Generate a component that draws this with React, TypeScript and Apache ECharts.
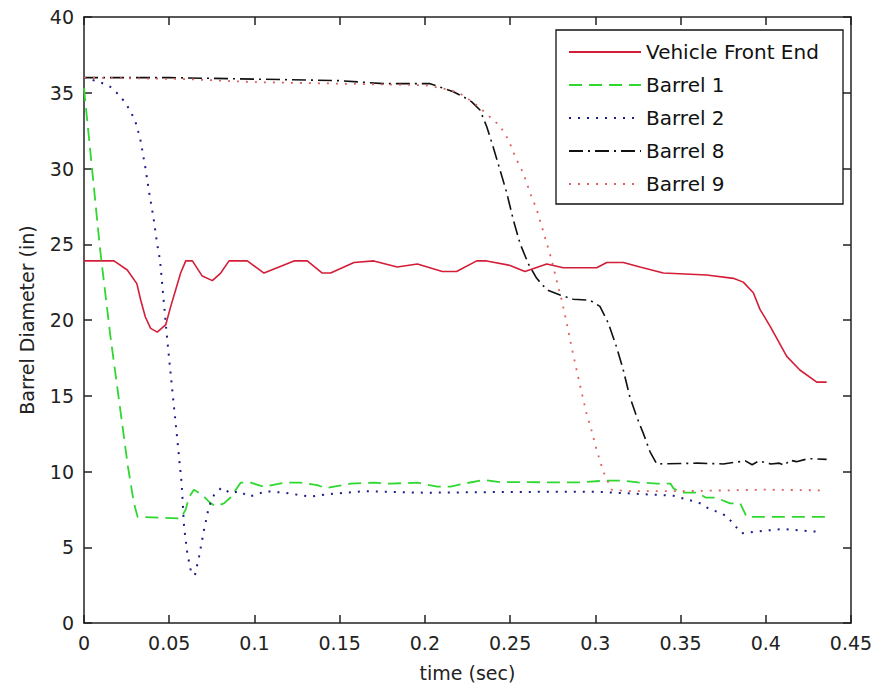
import React, { useEffect, useRef } from "react";
import * as echarts from "echarts";

const xTickLabels = ["0", "0.05", "0.1", "0.15", "0.2", "0.25", "0.3", "0.35", "0.4", "0.45"];
const seriesNames = ["Vehicle Front End", "Barrel 1", "Barrel 2", "Barrel 8", "Barrel 9"];

const frontEndT = [0, 0.0176, 0.0254, 0.031, 0.0333, 0.036, 0.0391, 0.043, 0.048, 0.0509, 0.0538, 0.0567, 0.0597, 0.0636, 0.0694, 0.0753, 0.0802, 0.0851, 0.0958, 0.1056, 0.1232, 0.131, 0.1398, 0.1447, 0.1584, 0.17, 0.1838, 0.1956, 0.2102, 0.2186, 0.2304, 0.2363, 0.25, 0.2587, 0.2715, 0.2812, 0.3008, 0.3067, 0.3164, 0.3262, 0.3399, 0.3653, 0.381, 0.3868, 0.3927, 0.3966, 0.4025, 0.4123, 0.42, 0.4299, 0.4357];
const frontEndV = [23.9, 23.9, 23.3, 22.4, 21.3, 20.2, 19.45, 19.2, 19.7, 20.9, 22.0, 23.1, 23.9, 23.9, 22.9, 22.6, 23.1, 23.9, 23.9, 23.1, 23.9, 23.9, 23.1, 23.1, 23.8, 23.9, 23.5, 23.7, 23.2, 23.2, 23.9, 23.9, 23.6, 23.2, 23.7, 23.45, 23.45, 23.8, 23.8, 23.5, 23.1, 22.97, 22.75, 22.5, 21.8, 20.7, 19.6, 17.6, 16.7, 15.9, 15.9];

const barrel1T = [0, 0.0094, 0.0153, 0.0258, 0.0293, 0.0315, 0.0567, 0.0597, 0.0616, 0.0645, 0.0694, 0.0743, 0.0773, 0.0821, 0.0861, 0.0919, 0.0978, 0.1056, 0.1173, 0.127, 0.1369, 0.1418, 0.1467, 0.1565, 0.1701, 0.18, 0.1956, 0.2073, 0.2151, 0.223, 0.2343, 0.244, 0.291, 0.306, 0.316, 0.325, 0.336, 0.344, 0.3458, 0.35, 0.36, 0.365, 0.371, 0.379, 0.385, 0.3888, 0.4365];
const barrel1V = [35.3, 24.7, 19.1, 10.3, 7.9, 7.0, 6.9, 7.5, 8.3, 8.8, 8.45, 7.9, 7.7, 7.9, 8.3, 9.26, 9.26, 9.0, 9.26, 9.26, 9.1, 8.9, 9.0, 9.2, 9.26, 9.2, 9.26, 9.0, 9.0, 9.2, 9.44, 9.3, 9.28, 9.4, 9.4, 9.28, 9.2, 9.2, 8.9, 8.6, 8.6, 8.27, 8.27, 7.9, 7.9, 7.0, 7.0];

const barrel2T = [0, 0.0094, 0.0153, 0.0201, 0.0246, 0.0299, 0.0329, 0.0358, 0.0381, 0.0407, 0.043, 0.0446, 0.0485, 0.0514, 0.0544, 0.0573, 0.0587, 0.0606, 0.063, 0.0651, 0.0675, 0.0704, 0.0733, 0.0763, 0.0806, 0.0861, 0.091, 0.0968, 0.1017, 0.1066, 0.1173, 0.133, 0.1427, 0.164, 0.2, 0.25, 0.3, 0.3458, 0.3556, 0.3614, 0.3663, 0.3712, 0.377, 0.3815, 0.3859, 0.4, 0.41, 0.4328];
const barrel2V = [36.0, 35.7, 35.4, 34.9, 34.3, 33.2, 32.0, 30.2, 28.5, 26.8, 24.95, 23.96, 19.1, 15.8, 12.5, 9.2, 6.36, 4.6, 3.28, 3.17, 4.38, 6.14, 7.68, 8.45, 8.93, 8.56, 8.7, 8.34, 8.5, 8.7, 8.6, 8.34, 8.5, 8.7, 8.6, 8.65, 8.67, 8.4, 8.1, 7.9, 7.57, 7.35, 7.06, 6.47, 5.92, 6.1, 6.2, 6.0];

const barrel8T = [0, 0.05, 0.1, 0.15, 0.1756, 0.203, 0.2108, 0.2167, 0.2225, 0.2275, 0.2323, 0.2363, 0.2401, 0.2441, 0.248, 0.2519, 0.2558, 0.2607, 0.2656, 0.2715, 0.2793, 0.2871, 0.2969, 0.3027, 0.3076, 0.3125, 0.3164, 0.3203, 0.3243, 0.3282, 0.3321, 0.336, 0.36, 0.375, 0.388, 0.392, 0.396, 0.403, 0.408, 0.411, 0.414, 0.418, 0.425, 0.4357];
const barrel8V = [36.0, 36.0, 35.9, 35.8, 35.6, 35.6, 35.3, 35.07, 34.74, 34.4, 33.86, 32.76, 31.4, 29.9, 28.4, 26.6, 25.06, 23.7, 22.75, 22.0, 21.65, 21.37, 21.3, 20.9, 19.8, 18.2, 16.7, 14.9, 13.6, 12.5, 11.3, 10.5, 10.55, 10.5, 10.7, 10.45, 10.7, 10.5, 10.55, 10.4, 10.75, 10.65, 10.85, 10.8];

const barrel9T = [0, 0.06, 0.1, 0.15, 0.2, 0.21, 0.22, 0.228, 0.2323, 0.2382, 0.2441, 0.249, 0.2529, 0.2577, 0.2617, 0.2656, 0.2685, 0.2715, 0.2744, 0.2773, 0.2803, 0.2832, 0.2861, 0.289, 0.292, 0.2949, 0.2978, 0.3008, 0.3047, 0.3096, 0.32, 0.35, 0.4, 0.4357];
const barrel9V = [36.0, 35.9, 35.7, 35.6, 35.5, 35.3, 35.0, 34.4, 34.0, 33.4, 32.8, 31.9, 30.8, 29.7, 28.4, 27.3, 26.2, 25.06, 23.96, 22.6, 21.3, 19.8, 18.2, 16.7, 15.2, 13.8, 12.7, 11.4, 9.99, 8.8, 8.7, 8.7, 8.8, 8.75];

const FONT = "DejaVu Sans";
const AXIS_COLOR = "#222";

function pairs(t: number[], v: number[]) {
  return t.map((x, i) => [x, v[i]]);
}

export default function App() {
  const ref = useRef<HTMLDivElement>(null);
  useEffect(() => {
    const chart = echarts.init(ref.current!, null, { renderer: "svg" });
    const axisCommon = {
      type: "value" as const,
      axisLine: { show: true, onZero: false, lineStyle: { color: AXIS_COLOR, width: 1.5 } },
      axisTick: { show: true, inside: true, length: 8, lineStyle: { color: AXIS_COLOR, width: 1.5 } },
      splitLine: { show: false },
    };
    const styles = [
      { color: "#d41e38", type: "solid", width: 1.6 },
      { color: "#2fd82f", type: [13, 7], width: 1.8 },
      { color: "#1c1c8a", type: [2, 7], width: 2 },
      { color: "#111111", type: [14, 5, 2, 5], width: 1.6 },
      { color: "#e06060", type: [2, 7], width: 1.8 },
    ];
    const datasets = [
      pairs(frontEndT, frontEndV),
      pairs(barrel1T, barrel1V),
      pairs(barrel2T, barrel2V),
      pairs(barrel8T, barrel8V),
      pairs(barrel9T, barrel9V),
    ];
    chart.setOption({
      animation: false,
      backgroundColor: "#ffffff",
      textStyle: { fontFamily: FONT },
      grid: { left: 84, right: 25, top: 17, bottom: 66 },
      xAxis: [
        {
          ...axisCommon,
          position: "bottom",
          min: 0,
          max: 0.45,
          interval: 0.05,
          name: "time (sec)",
          nameLocation: "middle",
          nameGap: 40,
          nameTextStyle: { color: AXIS_COLOR, fontSize: 19, fontFamily: FONT },
          axisLabel: {
            color: AXIS_COLOR,
            fontSize: 19,
            fontFamily: FONT,
            margin: 10,
            formatter: (val: number) => xTickLabels[Math.round(val / 0.05)] ?? "",
          },
        },
        {
          ...axisCommon,
          position: "top",
          min: 0,
          max: 0.45,
          interval: 0.05,
          axisLabel: { show: false },
        },
      ],
      yAxis: [
        {
          ...axisCommon,
          position: "left",
          min: 0,
          max: 40,
          interval: 5,
          name: "Barrel Diameter (in)",
          nameLocation: "middle",
          nameGap: 48,
          nameRotate: 90,
          nameTextStyle: { color: AXIS_COLOR, fontSize: 19, fontFamily: FONT },
          axisLabel: { color: AXIS_COLOR, fontSize: 19, fontFamily: FONT, margin: 10 },
        },
        {
          ...axisCommon,
          position: "right",
          min: 0,
          max: 40,
          interval: 5,
          axisLabel: { show: false },
        },
      ],
      legend: {
        show: true,
        orient: "vertical",
        left: 568,
        top: 42,
        padding: 0,
        itemWidth: 72,
        itemHeight: 14,
        itemGap: 13,
        z: 6,
        itemStyle: { color: "rgba(0,0,0,0)", borderWidth: 0, opacity: 0 },
        textStyle: { color: "#111", fontSize: 20, fontFamily: FONT, lineHeight: 20 },
        data: seriesNames,
      },
      graphic: [
        {
          type: "rect",
          z: 5,
          shape: { x: 556, y: 30, width: 287, height: 174 },
          style: { fill: "#ffffff", stroke: "#111", lineWidth: 1.3 },
        },
      ],
      series: datasets.map((d, i) => ({
        name: seriesNames[i],
        type: "line",
        xAxisIndex: 0,
        yAxisIndex: 0,
        data: d,
        symbol: "none",
        showSymbol: false,
        smooth: false,
        lineStyle: { ...styles[i] },
        itemStyle: { color: styles[i].color },
        z: 2 + i * 0.01,
      })),
    });
    return () => chart.dispose();
  }, []);
  return (
    <div
      ref={ref}
      style={{ position: "fixed", left: 0, top: 0, width: 876, height: 689 }}
    />
  );
}
